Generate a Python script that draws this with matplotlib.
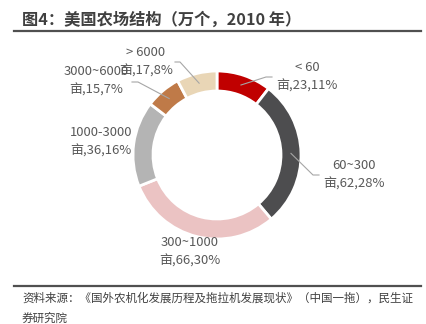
import numpy as np
import matplotlib
matplotlib.use("Agg")
import matplotlib.pyplot as plt

plt.rcParams['font.family'] = ['Noto Sans CJK SC', 'DejaVu Sans']

# data (万个, 2010)
sizes = ["< 60", "60~300", "300~1000", "1000-3000", "3000~6000", "> 6000"]
farms = [23, 62, 66, 36, 15, 17]
colors = ["#C00000", "#4D4D4F", "#EBC3C3", "#B4B4B4", "#BF7A48", "#E9D6B6"]

title = "图4：美国农场结构（万个，2010 年）"
source = ["资料来源：《国外农机化发展历程及拖拉机发展现状》（中国一拖），民生证",
          "券研究院"]

W, H = 426, 324
fig = plt.figure(figsize=(W / 100, H / 100), dpi=100)
ax = fig.add_axes([0, 0, 1, 1])

cx, cy, R, ring = 217, H - 155, 84, 20
wedges, _ = ax.pie(farms, colors=colors, startangle=90, counterclock=False,
                   center=(cx, cy), radius=R,
                   wedgeprops=dict(width=ring, edgecolor="white", linewidth=2))
ax.set_xlim(0, W)
ax.set_ylim(0, H)
ax.set_aspect("equal")
ax.axis("off")

# label layout (pixel coords, y from top): text centre, leader elbow, leader end
label_pos = [(307, 77), (354, 175), (190, 252), (101, 142), (96, 81), (146, 62)]
elbows = [(266, 77), (313, 175), None, None, (138, 82), (180, 62)]
ends = [(272, 77), (319, 175), None, None, (132, 82), (175, 62)]

total = sum(farms)
for w, name, n, (tx, ty), el, en in zip(wedges, sizes, farms, label_pos, elbows, ends):
    pct = round(100 * n / total)
    ax.text(tx, H - ty, f"{name}\n亩,{n},{pct}%", ha="center", va="center",
            fontsize=9.4, color="#595959", linespacing=1.55)
    if el is not None:
        ang = np.deg2rad((w.theta1 + w.theta2) / 2)
        rm = R - ring / 2
        px, py = cx + rm * np.cos(ang), cy + rm * np.sin(ang)
        ax.plot([px, el[0], en[0]], [py, H - el[1], H - en[1]],
                color="#A6A6A6", lw=0.8)

# title and source
ax.text(22, H - 20, title, fontsize=11.7, fontweight="bold", color="#404040",
        ha="left", va="center")
ax.plot([14, 421], [H - 31, H - 31], color="#505050", lw=1.6)
ax.plot([14, 421], [H - 286, H - 286], color="#505050", lw=1.6)
for i, line in enumerate(source):
    ax.text(22, H - 298 - 20 * i, line, fontsize=8.3, color="#404040",
            ha="left", va="center")

fig.savefig("out.png", dpi=100)
